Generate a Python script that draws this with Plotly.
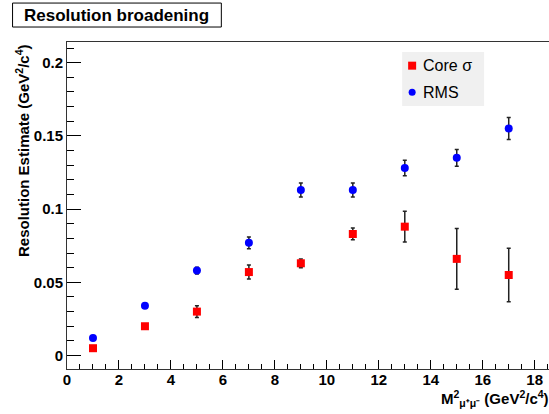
import plotly.graph_objects as go

# mass-squared bins (GeV^2/c^4)
m2 = [1, 3, 5, 7, 9, 11, 13, 15, 17]

# core sigma of the fit and its error
core_sigma = [0.005, 0.020, 0.030, 0.057, 0.063, 0.083, 0.088, 0.066, 0.055]
core_err = [0.0, 0.0, 0.004, 0.0048, 0.003, 0.004, 0.0105, 0.0207, 0.0183]

# RMS of the distribution and its error
rms = [0.012, 0.034, 0.058, 0.077, 0.113, 0.113, 0.128, 0.135, 0.155]
rms_err = [0.001, 0.0015, 0.0023, 0.004, 0.0048, 0.0048, 0.0053, 0.0057, 0.0075]

W, H = 549, 414
L, R, T, B = 66.5, 549, 42, 369.5
FONT = "Liberation Sans"


def px(x):
    return (x - L) / (R - L)


def py(y):
    return (B - y) / (B - T)


fig = go.Figure()
fig.add_trace(go.Scatter(
    x=m2, y=core_sigma, mode="markers", name="Core σ",
    marker=dict(symbol="square", size=8, color="#ff0000"),
    error_y=dict(type="data", array=core_err, color="#222222", thickness=1.5, width=2),
))
fig.add_trace(go.Scatter(
    x=m2, y=rms, mode="markers", name="RMS",
    marker=dict(symbol="circle", size=8, color="#0000ff"),
    error_y=dict(type="data", array=rms_err, color="#222222", thickness=1.5, width=2),
))

tickfont = dict(family=FONT, size=15, color="black", weight="bold")
fig.update_xaxes(
    range=[0, 18.55], dtick=2, tick0=0, ticks="inside", ticklen=9, tickwidth=1,
    tickcolor="black", showline=True, linecolor="#333333", linewidth=1, mirror=True,
    showgrid=False, zeroline=False, tickfont=tickfont, automargin=False,
    ticklabelstandoff=-3,
    minor=dict(dtick=0.5, ticks="inside", ticklen=5, tickcolor="black", showgrid=False),
)
fig.update_yaxes(
    range=[-0.0092, 0.2141], dtick=0.05, tick0=0, ticks="inside", ticklen=14, tickwidth=1,
    tickcolor="black", showline=True, linecolor="#333333", linewidth=1,
    showgrid=False, zeroline=False, tickfont=tickfont, automargin=False,
    minor=dict(dtick=0.01, ticks="inside", ticklen=7, tickcolor="black", showgrid=False),
)

shapes = [
    # title box
    dict(type="rect", xref="paper", yref="paper", x0=px(12), x1=px(221), y0=py(27), y1=py(3),
         line=dict(color="black", width=1), fillcolor="white", layer="above"),
    # legend box
    dict(type="rect", xref="paper", yref="paper", x0=px(402), x1=px(484), y0=py(106), y1=py(52),
         line=dict(width=0), fillcolor="#f0f0f0", layer="below"),
    dict(type="rect", xref="paper", yref="paper", xsizemode="pixel", ysizemode="pixel",
         xanchor=px(412), yanchor=py(65.7), x0=-4, x1=4, y0=-4, y1=4,
         line=dict(width=0), fillcolor="#ff0000"),
    dict(type="circle", xref="paper", yref="paper", xsizemode="pixel", ysizemode="pixel",
         xanchor=px(412), yanchor=py(92.3), x0=-3.5, x1=3.5, y0=-3.5, y1=3.5,
         line=dict(width=0), fillcolor="#0000ff"),
]

annotations = [
    dict(text="Resolution broadening", xref="paper", yref="paper", x=px(116.5), y=py(15),
         xanchor="center", yanchor="middle", showarrow=False,
         font=dict(family=FONT, size=17, color="black", weight="bold")),
    dict(text="Core σ", xref="paper", yref="paper", x=px(421), y=py(65.7),
         xanchor="left", yanchor="middle", showarrow=False,
         font=dict(family=FONT, size=16, color="black")),
    dict(text="RMS", xref="paper", yref="paper", x=px(421), y=py(92.3),
         xanchor="left", yanchor="middle", showarrow=False,
         font=dict(family=FONT, size=16, color="black")),
    dict(text="Resolution Estimate (GeV<sup>2</sup>/c<sup>4</sup>)", xref="paper", yref="paper",
         x=px(22), y=1, xanchor="center", yanchor="top", textangle=-90, showarrow=False,
         font=dict(family=FONT, size=15, color="black", weight="bold")),
    dict(text="M<sup>2</sup><sub>μ⁺μ⁻</sub> (GeV<sup>2</sup>/c<sup>4</sup>)", xref="paper", yref="paper",
         x=1, y=py(386.5), xanchor="right", yanchor="top", xshift=2, showarrow=False,
         font=dict(family=FONT, size=15, color="black", weight="bold")),
]

fig.update_layout(
    width=W, height=H,
    margin=dict(l=L, r=W - R, t=T, b=H - B, pad=0),
    paper_bgcolor="white", plot_bgcolor="white",
    showlegend=False, shapes=shapes, annotations=annotations,
)

fig.write_html("out.html", config={"displayModeBar": False},
               post_script="document.body.style.margin='0';")
